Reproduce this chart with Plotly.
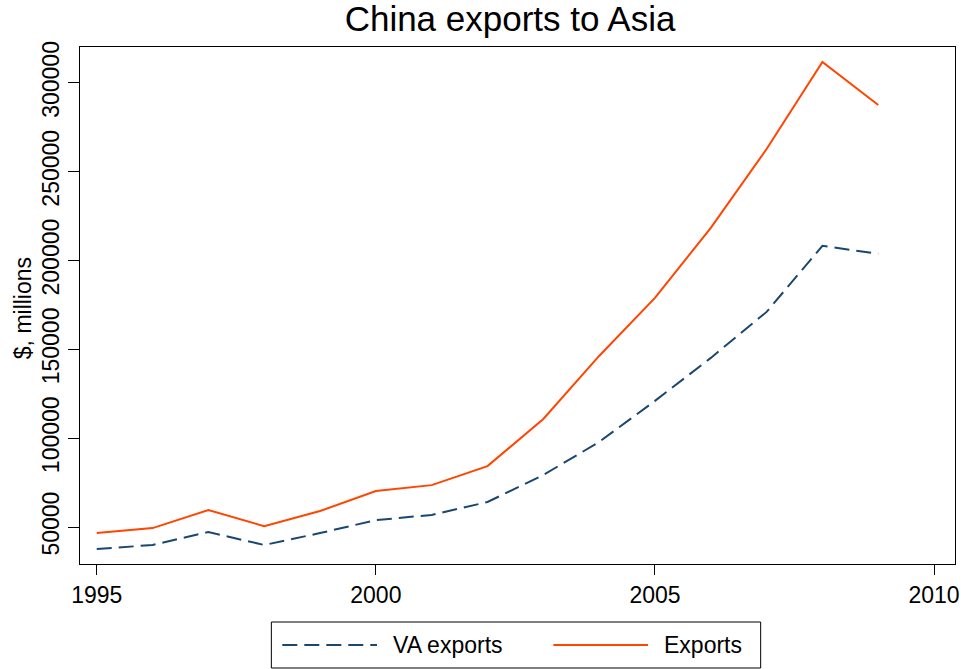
import plotly.graph_objects as go

years = list(range(1995, 2010))
exports = [46600, 49400, 59600, 50500, 59000, 70300, 73600, 84300, 110800,
           146300, 179000, 218400, 262800, 311800, 287600]
va_exports = [37600, 39900, 47200, 39900, 46600, 53900, 56800, 64100, 79300,
              97900, 121000, 145200, 171100, 208300, 203800]
x_ticks = [1995, 2000, 2005, 2010]
y_ticks = [50000, 100000, 150000, 200000, 250000, 300000]
series_names = ["VA exports", "Exports"]
series_colors = ["#1a476f", "#ff4500"]

font = "Liberation Sans, Arial, sans-serif"
DASH = "15px,7px"

fig = go.Figure()
fig.add_trace(go.Scatter(x=years, y=va_exports, mode="lines", name=series_names[0],
                         line=dict(color=series_colors[0], width=2, dash=DASH)))
fig.add_trace(go.Scatter(x=years, y=exports, mode="lines", name=series_names[1],
                         line=dict(color=series_colors[1], width=2)))

# plot area in pixels
L, R, T, B = 80, 958, 47, 564
def px(xp):
    return (xp - L) / (R - L)
def py(yp):
    return (B - yp) / (B - T)

shapes = [
    dict(type="rect", xref="paper", yref="paper", x0=px(272), x1=px(763),
         y0=py(622), y1=py(668), line=dict(color="black", width=1), fillcolor="white"),
    dict(type="line", xref="paper", yref="paper", x0=px(283), x1=px(378),
         y0=py(645), y1=py(645), line=dict(color=series_colors[0], width=2, dash=DASH)),
    dict(type="line", xref="paper", yref="paper", x0=px(555), x1=px(650),
         y0=py(645), y1=py(645), line=dict(color=series_colors[1], width=2)),
]
annotations = [
    dict(text=series_names[0], xref="paper", yref="paper", x=px(392), y=py(645),
         xanchor="left", yanchor="middle", showarrow=False, font=dict(size=23)),
    dict(text=series_names[1], xref="paper", yref="paper", x=px(664), y=py(645),
         xanchor="left", yanchor="middle", showarrow=False, font=dict(size=23)),
    dict(text="$, millions", xref="paper", yref="paper", x=px(23), y=py(308),
         xanchor="center", yanchor="middle", textangle=-90, showarrow=False,
         font=dict(size=23)),
]

fig.update_layout(
    width=972, height=669,
    margin=dict(l=L, r=972 - R, t=T, b=669 - B),
    paper_bgcolor="white", plot_bgcolor="white",
    font=dict(family=font, size=24, color="black"),
    title=dict(text="China exports to Asia", xref="paper", x=px(511.5), xanchor="center",
               y=1 - 19 / 669, yanchor="middle", font=dict(size=35)),
    showlegend=False,
    shapes=shapes,
    annotations=annotations,
)
fig.update_xaxes(range=[1994.70, 2010.375], tickvals=x_ticks,
                 ticktext=[str(v) for v in x_ticks], ticks="outside",
                 ticklen=10, tickcolor="black", showgrid=False, zeroline=False,
                 showline=True, linecolor="black", linewidth=1, mirror=True,
                 tickfont=dict(size=23))
fig.update_yaxes(range=[29200, 320200], tickvals=y_ticks,
                 ticktext=[str(v) for v in y_ticks], ticks="outside",
                 ticklen=11, tickcolor="black", showgrid=False, zeroline=False,
                 showline=True, linecolor="black", linewidth=1, mirror=True,
                 tickangle=-90, tickfont=dict(size=23), ticklabelstandoff=0)

fig.write_html("out.html")
